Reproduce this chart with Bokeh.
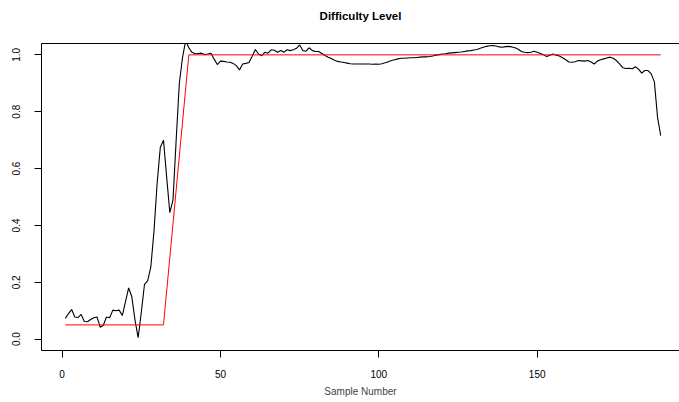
from bokeh.plotting import figure
from bokeh.models import LinearAxis, FixedTicker, PrintfTickFormatter, Range1d, Title
from bokeh.embed import file_html
from bokeh.resources import INLINE

# ---- data ----
sample = list(range(1, 190))
difficulty = [
    0.073, 0.090, 0.104, 0.078, 0.076, 0.087, 0.062, 0.061, 0.069, 0.075,
    0.078, 0.042, 0.049, 0.078, 0.075, 0.102, 0.100, 0.102, 0.083, 0.132,
    0.180, 0.149, 0.067, 0.005, 0.095, 0.193, 0.205, 0.254, 0.380, 0.550,
    0.675, 0.700, 0.570, 0.445, 0.490, 0.700, 0.900, 0.990, 1.050, 1.025,
    1.009, 1.004, 1.005, 1.006, 1.001, 1.003, 1.006, 0.985, 0.966, 0.978,
    0.977, 0.975, 0.974, 0.970, 0.962, 0.947, 0.968, 0.970, 0.973, 0.995,
    1.019, 1.003, 0.997, 1.009, 1.006, 1.018, 1.016, 1.009, 1.015, 1.009,
    1.018, 1.015, 1.018, 1.023, 1.035, 1.015, 1.013, 1.025, 1.015, 1.012,
    1.012, 1.005, 0.998, 0.992, 0.987, 0.981, 0.977, 0.975, 0.973, 0.971,
    0.969, 0.968, 0.968, 0.968, 0.968, 0.968, 0.968, 0.967, 0.968, 0.967,
    0.969, 0.972, 0.976, 0.980, 0.983, 0.986, 0.988, 0.988, 0.989, 0.990,
    0.990, 0.991, 0.992, 0.993, 0.993, 0.994, 0.996, 0.999, 1.001, 1.003,
    1.004, 1.006, 1.007, 1.008, 1.009, 1.010, 1.012, 1.014, 1.015, 1.017,
    1.019, 1.023, 1.027, 1.030, 1.032, 1.033, 1.031, 1.028, 1.027, 1.029,
    1.030, 1.028, 1.025, 1.020, 1.012, 1.009, 1.008, 1.009, 1.013, 1.009,
    1.005, 1.000, 0.994, 0.999, 1.003, 0.999, 0.996, 0.990, 0.983, 0.975,
    0.974, 0.976, 0.980, 0.979, 0.978, 0.980, 0.975, 0.968, 0.978, 0.983,
    0.986, 0.989, 0.992, 0.988, 0.980, 0.968, 0.955, 0.952, 0.953, 0.951,
    0.958, 0.950, 0.936, 0.945, 0.945, 0.933, 0.905, 0.780, 0.716,
]
target_x = [1, 32, 40, 189]
target_y = [0.05, 0.05, 1.0, 1.0]
x_ticks = [0, 50, 100, 150]
y_ticks = [0.0, 0.2, 0.4, 0.6, 0.8, 1.0]
title_text = "Difficulty Level"
x_label = "Sample Number"

FONT = "Liberation Sans"

p = figure(frame_width=638, frame_height=307, output_backend="svg",
           toolbar_location=None,
           x_range=Range1d(-6.52, 194.93), y_range=Range1d(-0.04, 1.04),
           min_border_left=41, min_border_right=0, min_border_top=43,
           min_border_bottom=44, background_fill_color="white",
           border_fill_color="white")
p.outline_line_color = None
p.grid.visible = False

p.title.text = title_text
p.title.align = "center"
p.title.text_font = FONT
p.title.text_font_size = "11.5px"
p.title.text_font_style = "bold"
p.title.text_color = "black"
p.title.offset = 0
p.title.standoff = 4

# x axis
xa = p.xaxis[0]
xa.ticker = FixedTicker(ticks=x_ticks)
xa.minor_tick_line_color = None
xa.major_tick_out = 7
xa.major_tick_in = 0
xa.major_label_standoff = 12
xa.major_label_text_font = FONT
xa.major_label_text_font_size = "10px"
xa.major_label_text_color = "black"
xa.axis_label = x_label
xa.axis_label_text_font = FONT
xa.axis_label_text_font_size = "10px"
xa.axis_label_text_font_style = "normal"
xa.axis_label_standoff = 5
xa.axis_line_color = "black"

# y axis
ya = p.yaxis[0]
ya.ticker = FixedTicker(ticks=y_ticks)
ya.formatter = PrintfTickFormatter(format="%.1f")
ya.minor_tick_line_color = None
ya.major_tick_out = 7
ya.major_tick_in = 0
ya.major_label_standoff = 14
ya.major_label_orientation = "vertical"
ya.major_label_text_font = FONT
ya.major_label_text_font_size = "10px"
ya.major_label_text_color = "black"
ya.axis_line_color = "black"

# top border line
top = LinearAxis(ticker=FixedTicker(ticks=[]), major_tick_line_color=None,
                 minor_tick_line_color=None, major_label_text_font_size="0px",
                 axis_line_color="black")
p.add_layout(top, "above")
# spacer between the top border and the title
p.add_layout(Title(text=" ", text_font_size="1px", standoff=17), "above")

p.line(sample, difficulty, line_color="black", line_width=1.1)
p.line(target_x, target_y, line_color="#ff0000", line_width=1)

open("out.html", "w").write(file_html(p, INLINE))
